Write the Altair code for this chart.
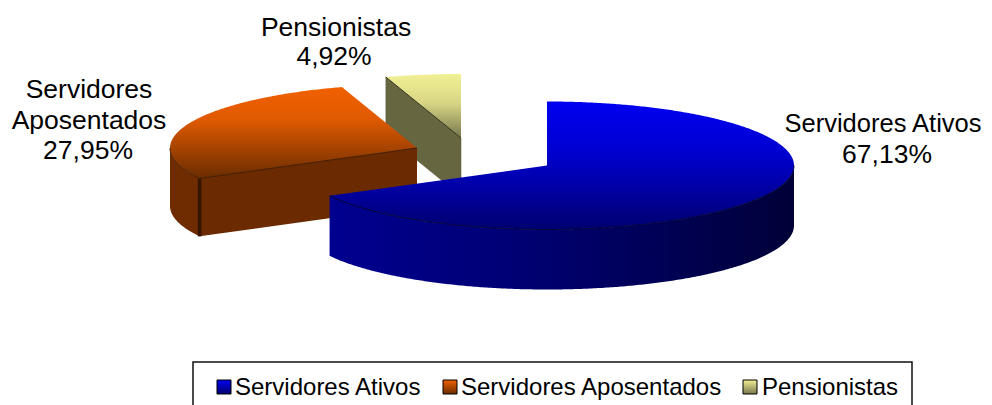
import math
import altair as alt

CATEGORIES = ["Servidores Ativos", "Servidores Aposentados", "Pensionistas"]
SHARES = [67.13, 27.95, 4.92]
SHARE_LABELS = ["67,13%", "27,95%", "4,92%"]

OFF = 8
RX, RY = 247, 64
DEPTHS = [60, 58, 58]
CENTERS = [(547, 165.5), (417, 148), (461, 138)]


def pt(c, deg, dy=0):
    t = math.radians(deg)
    return [c[0] + RX * math.sin(t) - OFF, c[1] - RY * math.cos(t) + dy - OFF]


def arc(c, a0, a1, dy=0):
    n = max(2, int(abs(a1 - a0) * 2))
    return [pt(c, a0 + (a1 - a0) * i / n, dy) for i in range(n + 1)]


def feature(coords, closed=True):
    if closed:
        geom = {"type": "Polygon", "coordinates": [coords + [coords[0]]]}
    else:
        geom = {"type": "LineString", "coordinates": coords}
    return {"type": "Feature", "properties": {}, "geometry": geom}


PROJ = alt.Projection(type="identity", scale=1, translate=[0, 0])


def shape(coords, fill=None, closed=True, **kw):
    args = dict(kw)
    if fill is not None:
        args["fill"] = fill
    else:
        args["filled"] = False
    return (
        alt.Chart(alt.Data(values=[feature(coords, closed)]))
        .mark_geoshape(**args)
        .project(**PROJ.to_dict())
    )


def vgrad(*stops):
    return alt.Gradient(
        gradient="linear", x1=0, y1=0, x2=0, y2=1,
        stops=[alt.GradientStop(offset=o, color=c) for o, c in stops],
    )


def hgrad(*stops):
    return alt.Gradient(
        gradient="linear", x1=0, y1=0, x2=1, y2=0,
        stops=[alt.GradientStop(offset=o, color=c) for o, c in stops],
    )


def P(x, y):
    return [x - OFF, y - OFF]


# slice angles, clockwise from 12 o'clock, from the shares
a1 = SHARES[0] * 3.6
a2 = a1 + SHARES[1] * 3.6
a3 = 360.0
cB, cO, cY = CENTERS
dB, dO, dY = DEPTHS

layers = []

# yellow slice
apexY = P(*cY)
layers.append(shape([pt(cY, a2), apexY, P(cY[0], cY[1] + dY), pt(cY, a2, dY)], fill="#666640", stroke="#55553a", strokeWidth=0.5))
layers.append(shape([apexY] + arc(cY, a2, a3), fill=vgrad((0, "#f2f094"), (0.45, "#d8d684"), (1, "#77774e"))))
layers.append(shape([pt(cY, a2), apexY], closed=False, stroke="#33331f", strokeWidth=1))

# orange slice
apexO = P(*cO)
layers.append(shape(arc(cO, a1, 270) + arc(cO, 270, a1, dO), fill="#6e2c00"))
layers.append(shape([apexO, pt(cO, a1), pt(cO, a1, dO), P(cO[0], cO[1] + dO)], fill="#6b2a00"))
layers.append(shape([apexO] + arc(cO, a1, a2), fill=vgrad((0, "#f06000"), (0.35, "#e05a00"), (1, "#6a2c00"))))
layers.append(shape([pt(cO, a1), pt(cO, a1, dO)], closed=False, stroke="#331500", strokeWidth=3.5))
layers.append(shape([pt(cO, 270)] + arc(cO, 270, a1) + [apexO], closed=False, stroke="#401a00", strokeWidth=1))

# blue slice
apexB = P(*cB)
layers.append(shape(arc(cB, 90, a1) + arc(cB, a1, 90, dB), fill=hgrad((0, "#000090"), (0.45, "#000070"), (1, "#000038"))))
layers.append(shape([apexB] + arc(cB, 0, a1), fill=vgrad((0, "#0000f0"), (0.4, "#0000d0"), (1, "#000070"))))
layers.append(shape(arc(cB, 90, a1), closed=False, stroke="#000038", strokeWidth=1))

# legend frame (its lower edge falls below the picture) and swatches
FRAME = [P(193, 362), P(912, 362), P(912, 412), P(193, 412)]
layers.append(shape(FRAME, fill="#ffffff", stroke="#111111", strokeWidth=1.5))
SWATCH_X = [217, 443, 743]
SWATCH_FILL = [
    vgrad((0, "#0000f0"), (1, "#000070")),
    vgrad((0, "#f06000"), (1, "#6a2c00")),
    vgrad((0, "#f2f094"), (1, "#77774e")),
]
for x, f in zip(SWATCH_X, SWATCH_FILL):
    layers.append(shape([P(x, 380), P(x + 14, 380), P(x + 14, 394), P(x, 394)], fill=f, stroke="#000000", strokeWidth=1))


def text(t, x, y, size, align="center"):
    return (
        alt.Chart(alt.Data(values=[{"t": t}]))
        .mark_text(font="Liberation Sans", fontSize=size, align=align, baseline="alphabetic", color="#000000")
        .encode(x=alt.value(x - OFF), y=alt.value(y - OFF), text="t:N")
    )


LEGEND_X = [235, 461, 762]
for name, x in zip(CATEGORIES, LEGEND_X):
    layers.append(text(name, x, 395, 24, "left"))

layers.append(text(CATEGORIES[0], 883, 132, 25.5))
layers.append(text(SHARE_LABELS[0], 887, 163, 26.5))
layers.append(text("Servidores", 89, 98, 26.5))
layers.append(text("Aposentados", 89, 129, 26.5))
layers.append(text(SHARE_LABELS[1], 88, 159, 26.5))
layers.append(text(CATEGORIES[2], 336, 36, 26.5))
layers.append(text(SHARE_LABELS[2], 334, 65, 26.5))

chart = (
    alt.layer(*layers)
    .properties(width=976, height=397, padding=0, autosize=alt.AutoSizeParams(type="none"), background="#ffffff")
    .configure_view(stroke=None)
)
chart.save("out.html", embed_options={"renderer": "svg", "actions": False})
